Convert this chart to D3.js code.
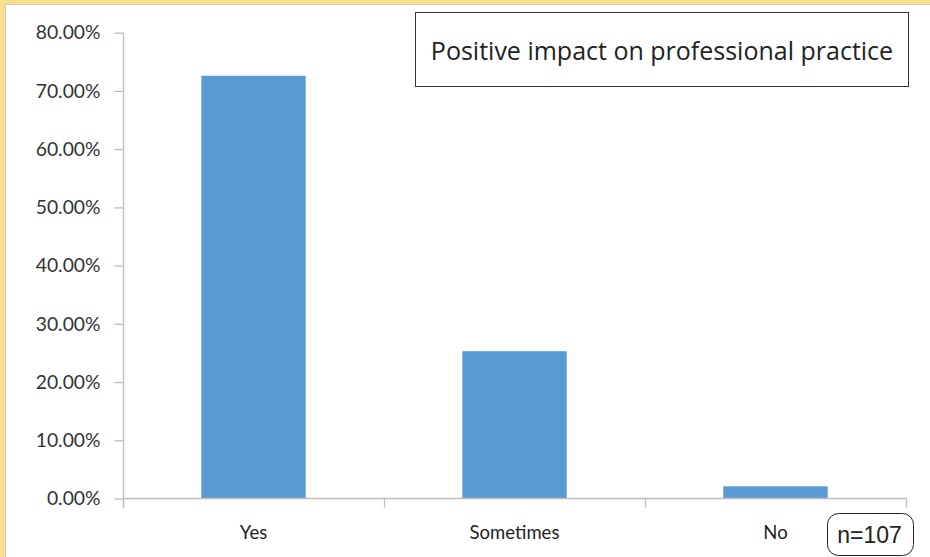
<!DOCTYPE html>
<html><head><meta charset="utf-8">
<script src="https://cdn.jsdelivr.net/npm/d3@7"></script>
<style>
html,body{margin:0;padding:0;background:#fff;}
svg{display:block;}
</style></head>
<body>
<svg id="c" width="930" height="557"></svg>
<script>
const categories = ["Yes", "Sometimes", "No"];
const values = [0.726, 0.253, 0.021];
const yTicks = [0, 0.1, 0.2, 0.3, 0.4, 0.5, 0.6, 0.7, 0.8];
const titleText = "Positive impact on professional practice";
const noteText = "n=107";

const svg = d3.select("#c");
const W = 930, H = 557;
svg.append("rect").attr("width", W).attr("height", H).attr("fill", "#fff");
// yellow frame
svg.append("rect").attr("x", 0).attr("y", 0).attr("width", W).attr("height", 4).attr("fill", "#f8df8b");
svg.append("rect").attr("x", 0).attr("y", 0).attr("width", 5).attr("height", H).attr("fill", "#f8df8b");
svg.append("line").attr("x1", 5.5).attr("x2", W).attr("y1", 4.5).attr("y2", 4.5).attr("stroke", "#c8c8c8");
svg.append("line").attr("x1", 5.5).attr("x2", 5.5).attr("y1", 4.5).attr("y2", H).attr("stroke", "#c8c8c8");

const x = d3.scaleBand().domain(categories).range([123, 906]).paddingInner(0.6).paddingOuter(0.3);
const xb = d3.scaleBand().domain(categories).range([123, 906]);
const y = d3.scaleLinear().domain([0, 0.8]).range([498.5, 32.7]);

const axisColor = "#bdbdbd";
// y axis
const yAxis = svg.append("g").attr("transform", "translate(123.5,0)")
  .call(d3.axisLeft(y).tickValues(yTicks).tickFormat(d3.format(".2%")).tickSizeInner(9).tickSizeOuter(0).tickPadding(14));
yAxis.select(".domain").attr("stroke", axisColor).attr("stroke-width", 1.3);
yAxis.selectAll(".tick line").attr("stroke", axisColor).attr("stroke-width", 1.3);
yAxis.selectAll(".tick text").attr("fill", "#333").style("font-family", "Lato, 'Open Sans', sans-serif").style("font-size", "19.3px");
yAxis.select(".domain").attr("d", `M0,${y(0.8)}V${y(0)+9}`);

// bars
svg.append("g").selectAll("rect").data(categories).join("rect")
  .attr("x", d => x(d)).attr("width", x.bandwidth())
  .attr("y", (d, i) => y(values[i])).attr("height", (d, i) => y(0) - y(values[i]))
  .attr("fill", "#5b9bd5");

// x axis
const xAxis = svg.append("g").attr("transform", `translate(0,${y(0)})`)
  .call(d3.axisBottom(xb).tickSize(0).tickPadding(27));
xAxis.select(".domain").attr("stroke", axisColor).attr("stroke-width", 1.3).attr("d", "M123,0H906.5");
xAxis.selectAll(".tick text").attr("fill", "#222").style("font-family", "Lato, 'Open Sans', sans-serif").style("font-size", "18.5px");
const bounds = [123, ...categories.map(c => xb(c) + xb.bandwidth())];
xAxis.selectAll(".bnd").data(bounds).join("line").attr("class", "bnd")
  .attr("x1", d => Math.round(d) + 0.5).attr("x2", d => Math.round(d) + 0.5)
  .attr("y1", 0).attr("y2", 9).attr("stroke", axisColor).attr("stroke-width", 1.3);

// title box
svg.append("rect").attr("x", 415.5).attr("y", 12.5).attr("width", 493).attr("height", 74)
  .attr("fill", "#fff").attr("stroke", "#333").attr("stroke-width", 1);
svg.append("text").attr("x", 662).attr("y", 50).attr("text-anchor", "middle").attr("dominant-baseline", "central")
  .attr("fill", "#222").style("font-family", "'Open Sans', Lato, sans-serif").style("font-size", "25px").text(titleText);

// n box
svg.append("rect").attr("x", 827.5).attr("y", 513.5).attr("width", 86).attr("height", 42).attr("rx", 11)
  .attr("fill", "#fff").attr("stroke", "#222").attr("stroke-width", 1);
svg.append("text").attr("x", 869.5).attr("y", 535).attr("text-anchor", "middle").attr("dominant-baseline", "central")
  .attr("fill", "#222").style("font-family", "'Liberation Sans', Arial, sans-serif").style("font-size", "23px").text(noteText);
</script>
</body></html>
